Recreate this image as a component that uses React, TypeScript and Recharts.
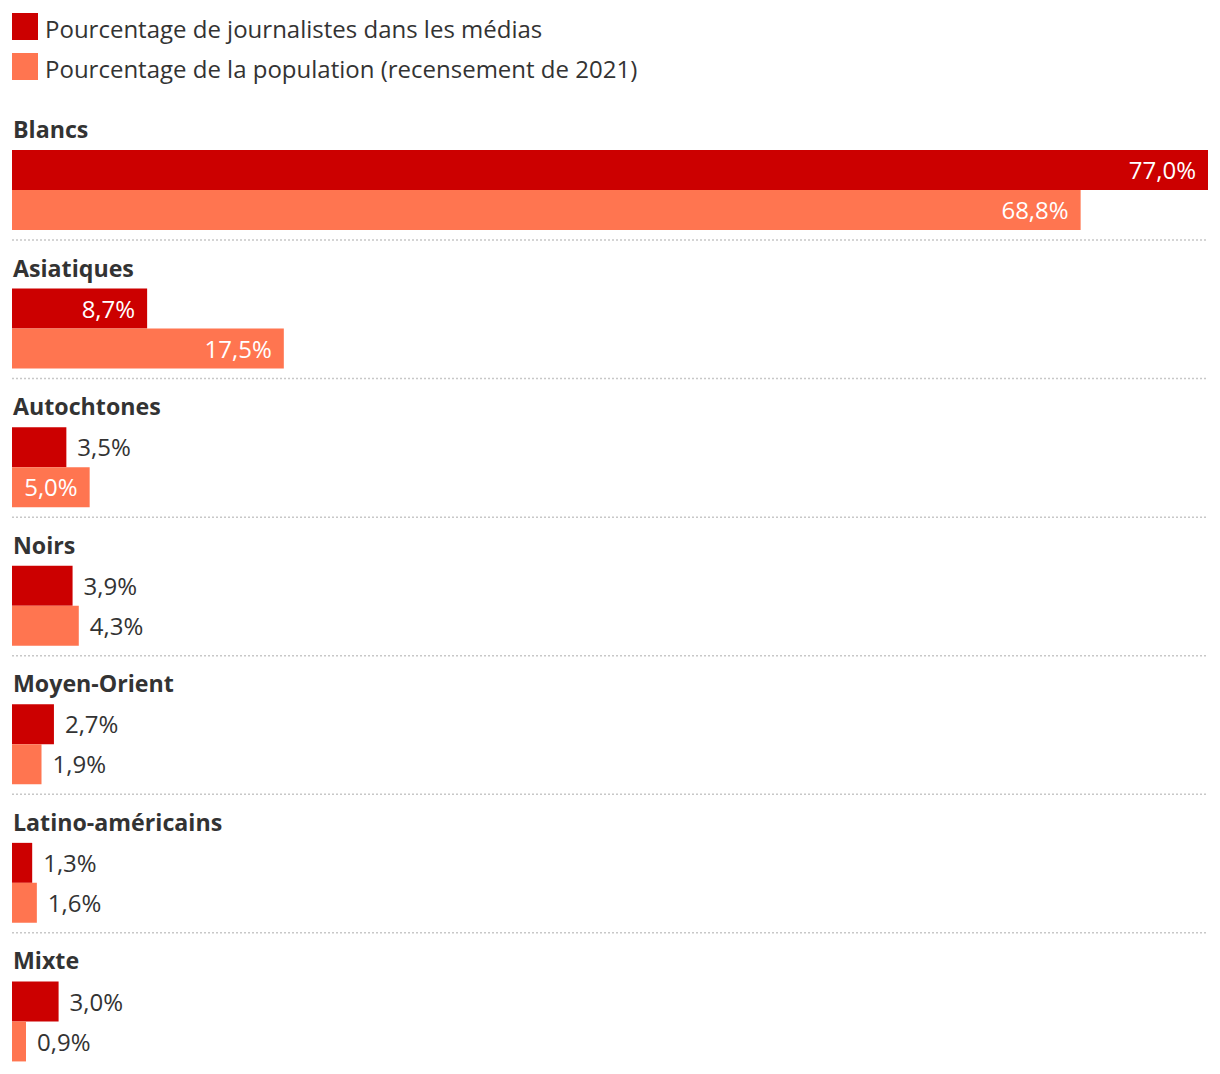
import React from "react";
import { Bar, BarChart, LabelList, XAxis, YAxis } from "recharts";

// Groupes (ordre du graphique)
const groups = [
  "Blancs",
  "Asiatiques",
  "Autochtones",
  "Noirs",
  "Moyen-Orient",
  "Latino-américains",
  "Mixte",
];

// Pourcentage de journalistes dans les médias
const journalistes = [77.0, 8.7, 3.5, 3.9, 2.7, 1.3, 3.0];

// Pourcentage de la population (recensement de 2021)
const population = [68.8, 17.5, 5.0, 4.3, 1.9, 1.6, 0.9];

const seriesNames = [
  "Pourcentage de journalistes dans les médias",
  "Pourcentage de la population (recensement de 2021)",
];

const RED = "#cc0000";
const ORANGE = "#ff7550";
const TEXT = "#333333";
const FONT = "'Open Sans', 'Noto Sans', sans-serif";

const chartData = groups.map((name, i) => ({
  name,
  journalistes: journalistes[i],
  population: population[i],
}));

const margin = { top: 113, right: 12, bottom: 17, left: 4 };
const WIDTH = 1212;
const HEIGHT = 1100;

const fmt = (v: number) => v.toFixed(1).replace(".", ",") + "%";

// Group title above the first bar + dotted separator under the group
const GroupLabel = (props: any) => {
  const { y, index, value } = props;
  const left = margin.left;
  const right = WIDTH - margin.right;
  return (
    <g>
      <text
        x={left + 1}
        y={y - 12}
        fill={TEXT}
        fontFamily={FONT}
        fontWeight={700}
        fontSize={23.2}
        textAnchor="start"
      >
        {value}
      </text>
      {index < groups.length - 1 && (
        <line
          x1={left}
          x2={right}
          y1={y + 90}
          y2={y + 90}
          stroke="#c8c8c8"
          strokeWidth={1.5}
          strokeDasharray="2 2"
        />
      )}
    </g>
  );
};

// Value inside the bar end when it fits, otherwise just after it
const ValueLabel = (props: any) => {
  const { x, y, width, height, value } = props;
  const inside = width > 72;
  return (
    <text
      x={inside ? x + width - 12 : x + width + 11}
      y={y + height / 2}
      dy="0.38em"
      fill={inside ? "#ffffff" : TEXT}
      textAnchor={inside ? "end" : "start"}
      fontFamily={FONT}
      fontSize={24}
    >
      {fmt(value)}
    </text>
  );
};

const LegendBox = () => (
  <div
    style={{
      position: "absolute",
      top: 5,
      left: 4,
      fontFamily: FONT,
      fontSize: 24,
      color: TEXT,
    }}
  >
    {seriesNames.map((n, i) => (
      <div
        key={n}
        style={{ display: "flex", alignItems: "center", height: 27, marginBottom: 13 }}
      >
        <span
          style={{
            display: "inline-block",
            width: 26,
            height: 27,
            background: i === 0 ? RED : ORANGE,
            marginRight: 7,
          }}
        />
        <span style={{ position: "relative", top: 2 }}>{n}</span>
      </div>
    ))}
  </div>
);

const App = () => {
  return (
    <div
      style={{
        position: "relative",
        width: WIDTH,
        height: 1058,
        overflow: "hidden",
        background: "#ffffff",
      }}
    >
      <LegendBox />
      <BarChart
        width={WIDTH}
        height={HEIGHT}
        data={chartData}
        layout="vertical"
        margin={margin}
        barGap={0}
      >
        <XAxis type="number" domain={[0, 77]} hide />
        <YAxis type="category" dataKey="name" hide />
        <Bar dataKey="journalistes" name={seriesNames[0]} fill={RED} barSize={40} isAnimationActive={false}>
          <LabelList dataKey="name" content={<GroupLabel />} />
          <LabelList dataKey="journalistes" content={<ValueLabel />} />
        </Bar>
        <Bar dataKey="population" name={seriesNames[1]} fill={ORANGE} barSize={40} isAnimationActive={false}>
          <LabelList dataKey="population" content={<ValueLabel />} />
        </Bar>
      </BarChart>
    </div>
  );
};

export default App;
